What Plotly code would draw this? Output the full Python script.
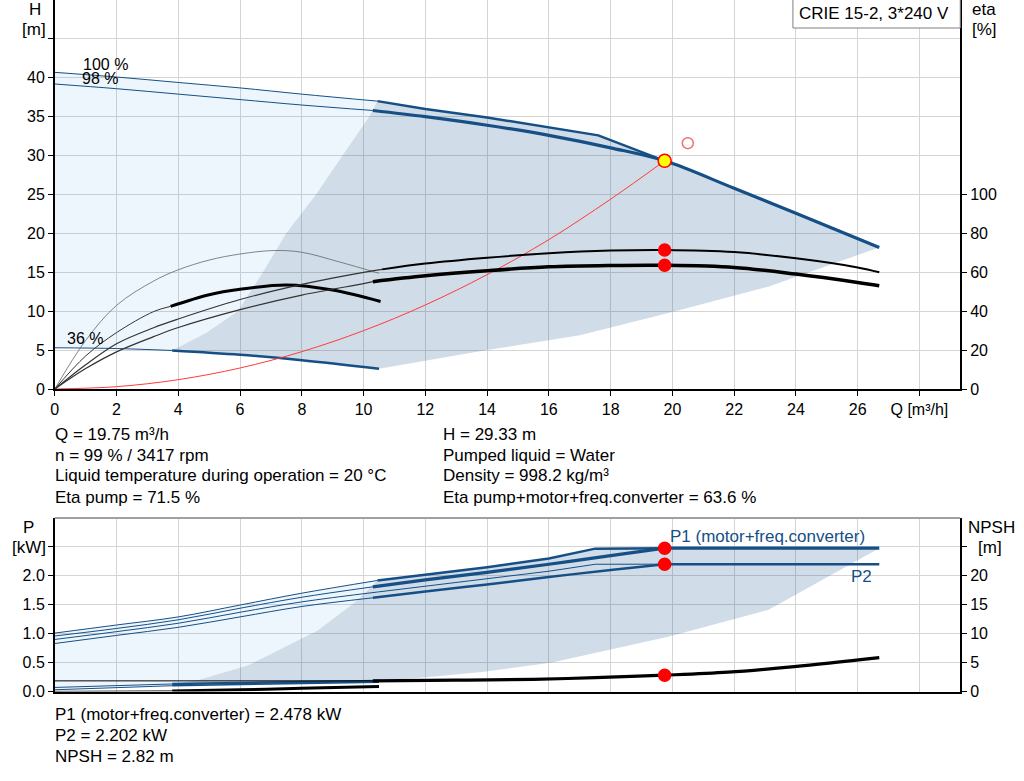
#Pump curve chart: CRIE 15-2 duty point, H/eta on top, P/NPSH below
import plotly.graph_objects as go

# ---- flow / head curves (top chart) ----
Q_H100_THIN = [0, 2, 4, 6, 8, 10.45]
H_H100_THIN = [40.7, 40.1, 39.4, 38.7, 37.9, 37.0]
Q_H100_MAX = [10.45, 12, 14, 16, 17.6, 19.75]
H_H100_MAX = [37.0, 36.0, 34.9, 33.6, 32.6, 29.33]
Q_H98_THIN = [0, 2, 4, 6, 8, 10.3]
H_H98_THIN = [39.2, 38.6, 37.9, 37.2, 36.5, 35.8]
Q_OP = [10.3, 12, 14, 16, 18, 19.75, 22, 24, 26.7]
H_OP = [35.8, 35.0, 33.9, 32.6, 31.0, 29.33, 25.8, 22.6, 18.2]
Q_H36_THIN = [0, 2, 3.8]
H_H36_THIN = [5.3, 5.2, 4.95]
Q_H36 = [3.8, 6, 8, 10.5]
H_H36 = [4.95, 4.4, 3.7, 2.6]

# operating range outline (top)
Q_EDGE_H = [3.8, 4.9, 5.93, 6.74, 7.49, 8.46, 9.32, 10.18, 10.45]
H_EDGE_H = [4.95, 7.2, 10, 15, 20, 25, 30, 35, 37.0]
Q_LOW_H = [10.5, 14, 17, 20, 23.1, 26.7]
H_LOW_H = [2.6, 5.0, 6.9, 9.9, 13.15, 18.2]

# system curve
Q_SYS = [0, 2, 4, 6, 8, 10, 12, 14, 16, 18, 19.75]
H_SYS = [0, 0.3, 1.2, 2.7, 4.8, 7.5, 10.8, 14.7, 19.2, 24.4, 29.33]

# ---- efficiency curves [%] ----
Q_ETA_P36 = [0, 1, 2, 3.2, 4, 5, 6, 7.1, 8, 9.2, 10.5]
ETA_P36 = [0, 25, 43, 55.5, 61.3, 66.3, 69.4, 71.2, 70.3, 65.4, 59.5]
Q_ETA_T36_THIN = [0, 1, 2, 3.2, 3.75]
ETA_T36_THIN = [0, 17, 29, 39.8, 42.5]
Q_ETA_T36 = [3.75, 5, 6, 7.5, 9, 10.55]
ETA_T36 = [42.5, 48.5, 51.3, 53.5, 50.9, 45.0]
Q_ETA_P99_THIN = [0, 1, 2, 3.2, 4, 6, 8, 10, 10.6]
ETA_P99_THIN = [0, 12.5, 23.3, 31.5, 36, 46, 53.8, 60.0, 61.5]
Q_ETA_P99 = [10.6, 12, 14, 16, 18, 19.75, 22, 24, 26, 26.7]
ETA_P99 = [61.5, 64.5, 67.5, 69.8, 71.2, 71.5, 70.4, 67.2, 62.5, 60]
Q_ETA_T99_THIN = [0, 1, 2, 3.2, 4, 6, 8, 10, 10.3]
ETA_T99_THIN = [0, 10.5, 19.1, 26.9, 31.6, 40.8, 48.3, 54.2, 55.2]
Q_ETA_T99 = [10.3, 12, 14, 16, 18, 19.75, 22, 24, 26, 26.7]
ETA_T99 = [55.2, 58.2, 60.8, 62.8, 63.5, 63.6, 62.5, 59.1, 54.8, 53.1]

# ---- power curves [kW] (bottom chart) ----
Q_P_THIN = [0, 2, 4, 6, 8, 10.45]
Q_P_THIN_OP = [0, 2, 4, 6, 8, 10.3]
P1_100_THIN = [1.01, 1.15, 1.29, 1.495, 1.70, 1.92]
P1_99_THIN = [0.96, 1.09, 1.24, 1.44, 1.63, 1.81]
P2_100_THIN = [0.90, 1.035, 1.18, 1.37, 1.55, 1.72]
P2_99_THIN = [0.83, 0.97, 1.11, 1.29, 1.47, 1.62]
Q_P100 = [10.45, 12, 14, 16, 17.5, 19.75]
P1_100 = [1.92, 2.02, 2.15, 2.30, 2.47, 2.478]
P2_100 = [1.72, 1.82, 1.95, 2.08, 2.20, 2.202]
Q_P99 = [10.3, 12, 14, 16, 18, 19.75]
P1_99 = [1.81, 1.93, 2.06, 2.20, 2.35, 2.478]
P2_99 = [1.62, 1.73, 1.85, 1.98, 2.10, 2.202]
Q_FLAT = [19.75, 26.7]
P1_FLAT = [2.478, 2.478]
P2_FLAT = [2.202, 2.202]
Q_P36_THIN = [0, 3.8]
P1_36_THIN = [0.07, 0.13]
P2_36_THIN = [0.03, 0.10]
Q_P36 = [3.8, 7, 10.5]
P1_36 = [0.13, 0.155, 0.18]
P2_36 = [0.10, 0.13, 0.16]

# operating range outline (bottom)
Q_EDGE_P = [3.8, 4.65, 6.25, 8.5, 9.75, 10.45]
P_EDGE_P = [0.13, 0.2, 0.45, 1.05, 1.55, 1.92]
Q_LOW_P = [10.5, 12.3, 13.9, 16.1, 19.9, 23.1, 26.7]
P_LOW_P = [0.18, 0.26, 0.34, 0.50, 0.95, 1.41, 2.478]

# ---- NPSH [m] ----
Q_NPSH_THIN = [0, 10.3]
NPSH_THIN = [1.84, 1.84]
Q_NPSH = [10.3, 13, 15.5, 17.5, 19.75, 21.8, 23.95, 26.7]
NPSH = [1.84, 1.95, 2.1, 2.4, 2.82, 3.34, 4.31, 5.86]
Q_NPSH36_THIN = [0, 3.8]
NPSH36_THIN = [0.02, 0.1]
Q_NPSH36 = [3.8, 6, 8, 10.5]
NPSH36 = [0.1, 0.3, 0.55, 0.86]

# duty point
Q_DUTY = 19.75
H_DUTY = 29.33
ETA_PUMP = 71.5
ETA_TOTAL = 63.6
P1_DUTY = 2.478
P2_DUTY = 2.202
NPSH_DUTY = 2.82
Q_REQ, H_REQ = 20.5, 31.6

X_TICKS = list(range(0, 30, 2))
X_LABELS = [str(v) for v in range(0, 28, 2)] + ['Q [m³/h]']
H_TICKS = list(range(0, 50, 5))
H_LABELS = [str(v) for v in range(0, 45, 5)] + ['']
ETA_TICKS = [0, 20, 40, 60, 80, 100]
P_TICKS = [0, 0.5, 1.0, 1.5, 2.0, 2.5]
P_LABELS = ['0.0', '0.5', '1.0', '1.5', '2.0', '']
NPSH_TICKS = [0, 5, 10, 15, 20, 25]
NPSH_LABELS = ['0', '5', '10', '15', '20', '']

TEXT_TOP_LEFT = ['Q = 19.75 m³/h', 'n = 99 % / 3417 rpm',
                 'Liquid temperature during operation = 20 °C', 'Eta pump = 71.5 %']
TEXT_TOP_RIGHT = ['H = 29.33 m', 'Pumped liquid = Water', 'Density = 998.2 kg/m³',
                  'Eta pump+motor+freq.converter = 63.6 %']
TEXT_BOTTOM = ['P1 (motor+freq.converter) = 2.478 kW', 'P2 = 2.202 kW', 'NPSH = 2.82 m']

BLUE = '#154f86'
LIGHT = 'rgba(30,130,230,0.076)'
GREY = 'rgba(21,79,134,0.2)'
GRID = '#d4d4d4'
FONT = 'Liberation Sans, Arial, sans-serif'
W, H = 1024, 781      # reference picture size, all positions below are read in these pixels
FIG_H = 790           # the snapshot squeezes the page height a little, so draw slightly taller

fig = go.Figure()


def add_line(x, y, xa, ya, color, width, shape='spline'):
    fig.add_trace(go.Scatter(x=x, y=y, xaxis=xa, yaxis=ya, mode='lines',
                             line=dict(color=color, width=width, shape=shape),
                             hoverinfo='skip', showlegend=False))


def add_area(x, y, xa, ya, color):
    fig.add_trace(go.Scatter(x=x, y=y, xaxis=xa, yaxis=ya, mode='lines', fill='toself',
                             fillcolor=color, line=dict(width=0), hoverinfo='skip',
                             showlegend=False))


def add_dot(x, y, xa, ya, fill='red', size=12, line_color='red'):
    fig.add_trace(go.Scatter(x=[x], y=[y], xaxis=xa, yaxis=ya, mode='markers',
                             marker=dict(color=fill, size=size,
                                         line=dict(color=line_color, width=1.5)),
                             hoverinfo='skip', showlegend=False))


# top chart areas
add_area(Q_H100_THIN + Q_EDGE_H[::-1] + Q_H36_THIN[::-1],
         H_H100_THIN + H_EDGE_H[::-1] + H_H36_THIN[::-1], 'x', 'y', LIGHT)
add_area(Q_EDGE_H + Q_H100_MAX + Q_OP[5:] + Q_LOW_H[::-1] + Q_H36[::-1],
         H_EDGE_H + H_H100_MAX + H_OP[5:] + H_LOW_H[::-1] + H_H36[::-1], 'x', 'y', GREY)

# head curves
add_line(Q_H100_THIN, H_H100_THIN, 'x', 'y', BLUE, 1)
add_line(Q_H98_THIN, H_H98_THIN, 'x', 'y', BLUE, 1)
add_line(Q_H36_THIN, H_H36_THIN, 'x', 'y', BLUE, 1)
add_line(Q_H100_MAX, H_H100_MAX, 'x', 'y', BLUE, 2.5, 'linear')
add_line(Q_OP, H_OP, 'x', 'y', BLUE, 3.2)
add_line(Q_H36, H_H36, 'x', 'y', BLUE, 2.5)
add_line(Q_SYS, H_SYS, 'x', 'y', '#ff3b3b', 1)

# efficiency curves
add_line(Q_ETA_P36, ETA_P36, 'x', 'y2', '#666666', 0.8)
add_line(Q_ETA_T36_THIN, ETA_T36_THIN, 'x', 'y2', '#333333', 1)
add_line(Q_ETA_T36, ETA_T36, 'x', 'y2', 'black', 3)
add_line(Q_ETA_P99_THIN, ETA_P99_THIN, 'x', 'y2', '#333333', 1.2)
add_line(Q_ETA_P99, ETA_P99, 'x', 'y2', 'black', 2)
add_line(Q_ETA_T99_THIN, ETA_T99_THIN, 'x', 'y2', '#333333', 1.2)
add_line(Q_ETA_T99, ETA_T99, 'x', 'y2', 'black', 3.5)

add_dot(Q_REQ, H_REQ, 'x', 'y', fill='rgba(0,0,0,0)', size=11, line_color='#f07070')
add_dot(Q_DUTY, H_DUTY, 'x', 'y', fill='#ffff00', size=13, line_color='red')
add_dot(Q_DUTY, ETA_PUMP, 'x', 'y2')
add_dot(Q_DUTY, ETA_TOTAL, 'x', 'y2')

# bottom chart areas
add_area(Q_P_THIN + Q_EDGE_P[::-1] + Q_P36_THIN[::-1],
         P1_100_THIN + P_EDGE_P[::-1] + P2_36_THIN[::-1], 'x2', 'y3', LIGHT)
add_area(Q_EDGE_P + Q_P100 + Q_FLAT[1:] + Q_LOW_P[::-1] + Q_P36[::-1],
         P_EDGE_P + P1_100 + P1_FLAT[1:] + P_LOW_P[::-1] + P1_36[::-1], 'x2', 'y3', GREY)

# power curves
add_line(Q_P_THIN, P1_100_THIN, 'x2', 'y3', BLUE, 1)
add_line(Q_P_THIN_OP, P1_99_THIN, 'x2', 'y3', BLUE, 1)
add_line(Q_P_THIN, P2_100_THIN, 'x2', 'y3', BLUE, 1)
add_line(Q_P_THIN_OP, P2_99_THIN, 'x2', 'y3', BLUE, 1)
add_line(Q_P100, P1_100, 'x2', 'y3', BLUE, 2.5, 'linear')
add_line(Q_P100, P2_100, 'x2', 'y3', BLUE, 1, 'linear')
add_line(Q_P99, P1_99, 'x2', 'y3', BLUE, 3.2)
add_line(Q_P99, P2_99, 'x2', 'y3', BLUE, 2.5)
add_line(Q_FLAT, P1_FLAT, 'x2', 'y3', BLUE, 3.2, 'linear')
add_line(Q_FLAT, P2_FLAT, 'x2', 'y3', BLUE, 2.5, 'linear')
add_line(Q_P36_THIN, P1_36_THIN, 'x2', 'y3', BLUE, 1, 'linear')
add_line(Q_P36_THIN, P2_36_THIN, 'x2', 'y3', BLUE, 1, 'linear')
add_line(Q_P36, P1_36, 'x2', 'y3', BLUE, 2.5)
add_line(Q_P36, P2_36, 'x2', 'y3', BLUE, 1.5)

# NPSH curves
add_line(Q_NPSH_THIN, NPSH_THIN, 'x2', 'y4', 'black', 1, 'linear')
add_line(Q_NPSH, NPSH, 'x2', 'y4', 'black', 3.2)
add_line(Q_NPSH36_THIN, NPSH36_THIN, 'x2', 'y4', 'black', 1, 'linear')
add_line(Q_NPSH36, NPSH36, 'x2', 'y4', 'black', 3)

add_dot(Q_DUTY, P1_DUTY, 'x2', 'y3')
add_dot(Q_DUTY, P2_DUTY, 'x2', 'y3')
add_dot(Q_DUTY, NPSH_DUTY, 'x2', 'y4')

# ---- axes ----
X0, X1 = 51 / W, 960 / W
X_RANGE = [0, (960 - 51) / 31.0]
TOP_DOM = [1 - 389 / H, 1]
BOT_DOM = [1 - 691.5 / H, 1 - 518 / H]
tick_font = dict(family=FONT, size=16, color='black')
common = dict(showline=True, linecolor='black', linewidth=1.5, ticklen=5,
              tickcolor='black', tickfont=tick_font, zeroline=False, fixedrange=True)

fig.update_layout(
    xaxis=dict(domain=[X0, X1], range=X_RANGE, anchor='y', tickvals=X_TICKS, ticktext=X_LABELS,
               ticks='outside', showgrid=True, gridcolor=GRID, **common),
    yaxis=dict(domain=TOP_DOM, range=[0, 50], anchor='x', tickvals=H_TICKS, ticktext=H_LABELS,
               ticks='outside', showgrid=True, gridcolor=GRID, **common),
    yaxis2=dict(overlaying='y', side='right', range=[0, 200], anchor='x', tickvals=ETA_TICKS,
                ticks='outside', showgrid=False, **common),
    xaxis2=dict(domain=[X0, X1], range=X_RANGE, anchor='y3', tickvals=X_TICKS, ticks='',
                showticklabels=False, showgrid=True, gridcolor=GRID, **common),
    yaxis3=dict(domain=BOT_DOM, range=[0, 3], anchor='x2', tickvals=P_TICKS, ticktext=P_LABELS,
                ticks='outside', showgrid=True, gridcolor=GRID, **common),
    yaxis4=dict(overlaying='y3', side='right', range=[0, 30], anchor='x2', tickvals=NPSH_TICKS,
                ticktext=NPSH_LABELS, ticks='outside', showgrid=False, **common),
    width=W, height=FIG_H, margin=dict(l=0, r=0, t=0, b=0),
    paper_bgcolor='white', plot_bgcolor='white', showlegend=False,
    font=dict(family=FONT, size=17, color='black'),
)

# top border of the power chart
fig.add_shape(type='line', xref='paper', yref='paper', x0=X0, x1=X1, y0=BOT_DOM[1], y1=BOT_DOM[1],
              line=dict(color='#a0a0a0', width=2))
# model box
fig.add_shape(type='rect', xref='paper', yref='paper', x0=792 / W, x1=X1, y0=1 - 28 / H, y1=1.01,
              line=dict(color='#808080', width=1), fillcolor='white')


def label(text, px, py, xanchor='left', size=17, color='black'):
    fig.add_annotation(text=text, x=px / W, y=1 - py / H, xref='paper', yref='paper',
                       xanchor=xanchor, yanchor='middle', showarrow=False,
                       font=dict(family=FONT, size=size, color=color))


label('CRIE 15-2, 3*240 V', 873, 14, 'center')
label('H', 31, 9, 'center')
label('[m]', 30, 29, 'center')
label('eta', 984, 9, 'center')
label('[%]', 984, 29, 'center')
label('100 %', 77, 64, 'left', 16)
label('98 %', 76, 78, 'left', 16)
label('36 %', 61, 338, 'left', 16)
label('P', 25, 527, 'center')
label('[kW]', 25, 547, 'center')
label('NPSH', 991, 527, 'center')
label('[m]', 990, 547, 'center')
label('P1 (motor+freq.converter)', 667, 536, 'left', 17, BLUE)
label('P2', 848, 576, 'left', 17, BLUE)

for i, t in enumerate(TEXT_TOP_LEFT):
    label(t, 49, 434 + 21 * i)
for i, t in enumerate(TEXT_TOP_RIGHT):
    label(t, 439, 434 + 21 * i)
for i, t in enumerate(TEXT_BOTTOM):
    label(t, 49, 714 + 21 * i)

# page has a default 8px body margin; drop it so the figure sits at the window origin
fig.write_html("out.html", config={'displayModeBar': False},
               post_script="document.body.style.margin='0';document.body.style.overflow='hidden';")
